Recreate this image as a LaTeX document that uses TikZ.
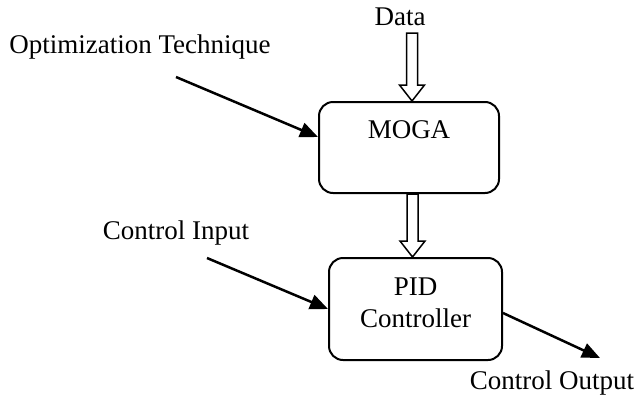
\documentclass[tikz,border=0pt]{standalone}
\usepackage{fontspec}
\setmainfont{Liberation Serif}
\usetikzlibrary{arrows.meta,calc}
\begin{document}
\begin{tikzpicture}[x=1pt,y=-1pt,
  txt/.style={font=\fontsize{27}{32}\selectfont,inner sep=0pt},
  blockbox/.style={draw,line width=2pt,rounded corners=14pt,inner sep=0pt,
    font=\fontsize{27}{32}\selectfont,align=center},
  flowline/.style={line width=2.5pt,-{Triangle[length=18pt,width=15pt]}},
  hollow/.style={draw,line width=1.5pt,fill=white,line join=miter}]
\useasboundingbox (0,0) rectangle (642,399);
\newcommand\hollowarr[2]{%
  \draw[hollow] let \p1=#1, \p2=#2 in
    (\x1-5.5pt,\y1) -- (\x1+5.5pt,\y1) -- (\x1+5.5pt,\y2+16pt) --
    (\x1+12.5pt,\y2+16pt) -- (\x1,\y2) -- (\x1-12.5pt,\y2+16pt) --
    (\x1-5.5pt,\y2+16pt) -- cycle;}
% boxes
\node[blockbox,minimum width=180pt,minimum height=91pt,
  label={[txt,anchor=center,yshift=-29pt]north:MOGA}] (moga) at (409,147.5) {};
\node[blockbox,minimum width=173pt,minimum height=102pt,
  label={[txt,align=center,anchor=center,yshift=-46pt]north:PID\\Controller}]
  (pid) at (415.5,309) {};
% labels
\node[txt] (data) at (400,17) {Data};
\node[txt] (opt) at (140,47) {Optimization Technique};
\node[txt] (cin) at (176,233) {Control Input};
\node[txt] (cout) at (552,383) {Control Output};
% connector end points
\coordinate (a1) at (412,33);
\path (moga.south) ++(3.5,0) coordinate (a2);
\coordinate (o1) at (176,77);
\coordinate (c1) at (207,258);
\coordinate (out) at (600,358);
% hollow arrows
\hollowarr{(a1)}{(moga.north)}
\hollowarr{(a2)}{(pid.north)}
% arrows
\draw[flowline] (o1) -- ($(moga.west)+(0,-10.5)$);
\draw[flowline] (c1) -- (pid.west);
\draw[flowline] ($(pid.east)+(0,4)$) -- (out);
\end{tikzpicture}
\end{document}
